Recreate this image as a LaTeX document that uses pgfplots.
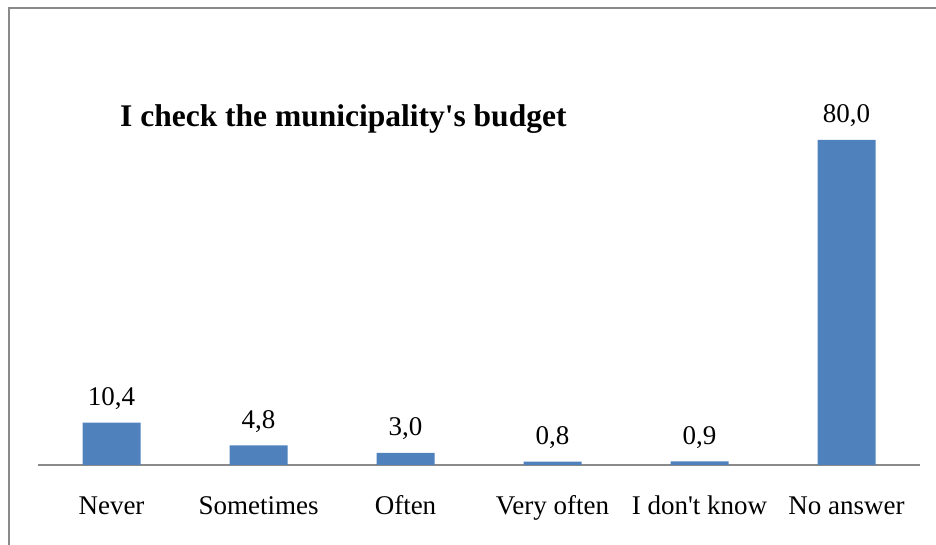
\documentclass[border=0pt]{standalone}
\usepackage{pgfplots}
\pgfplotsset{compat=1.18}
\usepackage{fontspec}
\setmainfont{Liberation Serif}
\definecolor{barblue}{HTML}{4F81BD}
\definecolor{framegray}{HTML}{8A8A8A}
\begin{document}
\begin{tikzpicture}[x=1pt,y=1pt]
\path[use as bounding box] (0,0) rectangle (936,545);
\draw[framegray, line width=1.6pt] (9,0) -- (9,537) -- (936,537);
\node[anchor=base west, inner sep=0pt, font=\fontsize{31.5}{36}\selectfont\bfseries] at (120,418) {I check the municipality\textquotesingle s budget};
\begin{axis}[
  at={(38pt,80pt)}, anchor=south west,
  scale only axis, width=882pt, height=325pt,
  xmin=-0.5, xmax=5.5, ymin=0, ymax=80,
  axis x line*=bottom, axis y line=none,
  axis line style={draw=framegray, line width=1.3pt},
  xtick={0,1,2,3,4,5},
  xticklabels={Never,Sometimes,Often,Very often,{I don\textquotesingle t know},No answer},
  major tick length=0pt,
  xticklabel style={anchor=base, yshift=-50pt, inner sep=0pt, font=\fontsize{27}{32}\selectfont},
  clip=false,
  nodes near coords,
  /pgf/number format/.cd, fixed, fixed zerofill, precision=1, use comma, assume math mode=true,
  /pgfplots/.cd,
  nodes near coords style={anchor=base, yshift=17pt, inner sep=0pt, font=\fontsize{27}{32}\selectfont},
]
\addplot[ybar, fill=barblue, draw=none, bar width=58pt] coordinates {
  (0,10.4) (1,4.8) (2,3.0) (3,0.8) (4,0.9) (5,80.0)
};
\end{axis}
\end{tikzpicture}
\end{document}
